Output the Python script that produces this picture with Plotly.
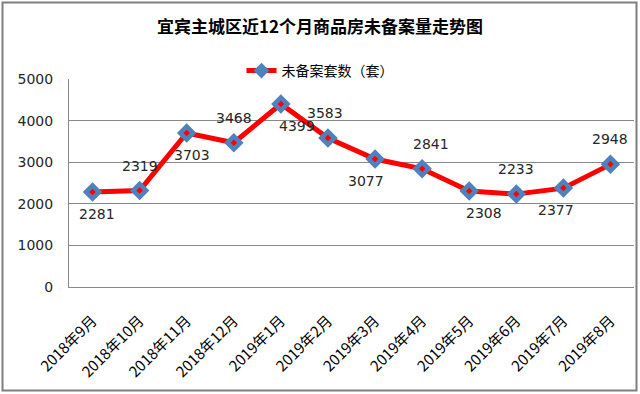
import plotly.graph_objects as go

# ---- data ----
months = ["2018年9月", "2018年10月", "2018年11月", "2018年12月", "2019年1月", "2019年2月",
          "2019年3月", "2019年4月", "2019年5月", "2019年6月", "2019年7月", "2019年8月"]
unfiled = [2281, 2319, 3703, 3468, 4399, 3583, 3077, 2841, 2308, 2233, 2377, 2948]
series_name = "未备案套数（套）"
title_text = "宜宾主城区近12个月商品房未备案量走势图"
y_ticks = [0, 1000, 2000, 3000, 4000, 5000]

# ---- label placement (style) ----
label_side = ["below", "above", "below", "above", "below", "above",
              "below", "above", "below", "above", "below", "above"]
label_dx = [4, 0, 5, 0, 16, -3, -9, 9, 15, 0, -7, 0]

W, H = 640, 394
L, R, T, B = 69, 6, 79, 107
pw, ph = W - L - R, H - T - B

fig = go.Figure()
fig.add_trace(go.Scatter(
    x=months, y=unfiled, mode="lines+markers", name=series_name,
    line=dict(color="#FF0000", width=5),
    marker=dict(symbol="diamond", size=15, color="#4F81BD",
                line=dict(color="#4F81BD", width=0)),
))
fig.add_trace(go.Scatter(
    x=months, y=unfiled, mode="markers", showlegend=False, hoverinfo="skip",
    marker=dict(symbol="diamond", size=5, color="#FF0000"),
))

for m, v, side, dx in zip(months, unfiled, label_side, label_dx):
    fig.add_annotation(x=m, y=v, text=str(v), showarrow=False,
                       yshift=(-22 if side == "below" else 25), xshift=dx,
                       font=dict(family="DejaVu Sans", size=14, color="#262626"))

def px_to_paper_x(p):
    return (p - L) / pw

def px_to_paper_y(p):
    return (H - B - p) / ph

fig.add_shape(type="rect", xref="paper", yref="paper",
              x0=px_to_paper_x(2.5), x1=px_to_paper_x(636.5),
              y0=px_to_paper_y(390.5), y1=px_to_paper_y(2.5),
              line=dict(color="#7F7F7F", width=2), layer="below")

fig.update_layout(
    width=W, height=H,
    margin=dict(l=L, r=R, t=T, b=B, autoexpand=False),
    paper_bgcolor="white", plot_bgcolor="white",
    title=dict(text="<b>" + title_text + "</b>", x=0.5, xanchor="center",
               y=1 - 27 / H, yanchor="middle",
               font=dict(family="Noto Sans CJK SC", size=17, color="#000000")),
    showlegend=True,
    legend=dict(orientation="h", x=0.5, xanchor="center", xref="container",
                y=1 - 71 / H, yref="container", yanchor="middle",
                font=dict(family="Noto Sans CJK SC", size=14, color="#000000"),
                bgcolor="rgba(0,0,0,0)", itemsizing="constant", itemwidth=30),
    font=dict(family="DejaVu Sans", size=14, color="#262626"),
)
fig.update_xaxes(type="category", tickangle=-45, showgrid=False, showline=True,
                 linecolor="#888888", linewidth=1, ticks="", automargin=False,
                 ticklabelstandoff=18,
                 tickfont=dict(family="Noto Sans CJK SC", size=15, color="#000000"),
                 range=[-0.5, len(months) - 0.5])
fig.update_yaxes(range=[0, 5000], tickvals=y_ticks, showgrid=True, gridcolor="#888888",
                 gridwidth=1, showline=True, linecolor="#888888", linewidth=1,
                 ticks="", ticklen=0, zeroline=False, automargin=False,
                 ticklabelstandoff=12,
                 tickfont=dict(family="DejaVu Sans", size=14, color="#262626"))

fig.write_html("out.html", config={"displayModeBar": False},
               post_script="document.body.style.margin='0';")
